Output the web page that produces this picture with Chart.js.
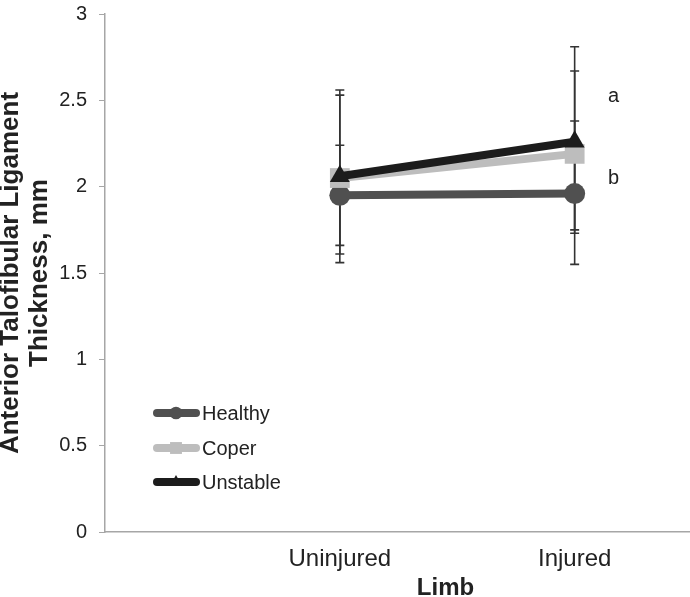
<!DOCTYPE html>
<html>
<head>
<meta charset="utf-8">
<script src="https://cdn.jsdelivr.net/npm/chart.js@4.4.1/dist/chart.umd.min.js"></script>
<style>
    html, body { margin: 0; padding: 0; background: #fff; overflow: hidden; }
    #wrap { width: 800px; height: 597px; }
</style>
</head>
<body>
<div id="wrap"><canvas id="chart"></canvas></div>
<script>
// values (mm)
const limbs = ['Uninjured', 'Injured'];
const groups = ['Healthy', 'Coper', 'Unstable'];

const healthy = [1.95, 1.96];
const coper = [2.05, 2.19];
const unstable = [2.06, 2.26];

// error bar ends
const healthyLow = [1.66, 1.55];
const healthyHigh = [2.24, 2.38];
const coperLow = [1.61, 1.73];
const coperHigh = [2.53, 2.67];
const unstableLow = [1.56, 1.75];
const unstableHigh = [2.56, 2.81];

const yTicks = [0, 0.5, 1, 1.5, 2, 2.5, 3];

// significance letters next to the injured limb
const sigLetters = ['a', 'b'];
const sigValues = [2.52, 2.05];

const FONT = "'Liberation Sans', Arial, Helvetica, sans-serif";
const TEXT = '#222222';
const AXIS = '#a6a6a6';

const styles = {
    Healthy: { color: '#505050', point: 'circle', radius: 10.5, order: 3 },
    Coper: { color: '#bdbdbd', point: 'rect', radius: 14, order: 2 },
    Unstable: { color: '#1c1c1c', point: 'triangle', radius: 11.5, order: 1 }
};

const series = [healthy, coper, unstable];
const lows = [healthyLow, coperLow, unstableLow];
const highs = [healthyHigh, coperHigh, unstableHigh];

function toPoints(values) {
    return values.map((v, i) => ({ x: i + 1, y: v }));
}

const datasets = groups.map((name, k) => ({
    label: name,
    data: toPoints(series[k]),
    borderColor: styles[name].color,
    backgroundColor: styles[name].color,
    borderWidth: 8,
    pointStyle: styles[name].point,
    pointRadius: styles[name].radius,
    pointHoverRadius: styles[name].radius,
    pointBorderWidth: 0,
    order: styles[name].order,
    tension: 0
}));

const errorBars = {
    id: 'errorBars',
    beforeDatasetsDraw(chart) {
        const { ctx, scales: { x, y } } = chart;
        ctx.save();
        ctx.strokeStyle = '#333333';
        ctx.lineWidth = 1.6;
        groups.forEach((name, k) => {
            limbs.forEach((_, i) => {
                const px = x.getPixelForValue(i + 1);
                const top = y.getPixelForValue(highs[k][i]);
                const bot = y.getPixelForValue(lows[k][i]);
                ctx.beginPath();
                ctx.moveTo(px, top);
                ctx.lineTo(px, bot);
                ctx.moveTo(px - 4.5, top);
                ctx.lineTo(px + 4.5, top);
                ctx.moveTo(px - 4.5, bot);
                ctx.lineTo(px + 4.5, bot);
                ctx.stroke();
            });
        });
        ctx.restore();
    }
};

function drawMarker(ctx, style, cx, cy, r) {
    ctx.beginPath();
    if (style === 'circle') {
        ctx.arc(cx, cy, r, 0, Math.PI * 2);
    } else if (style === 'rect') {
        const s = Math.SQRT1_2 * r;
        ctx.rect(cx - s, cy - s, 2 * s, 2 * s);
    } else {
        ctx.moveTo(cx, cy - r);
        ctx.lineTo(cx + r * 0.866, cy + r / 2);
        ctx.lineTo(cx - r * 0.866, cy + r / 2);
        ctx.closePath();
    }
    ctx.fill();
}

const sideLegend = {
    id: 'sideLegend',
    afterDraw(chart) {
        const { ctx, chartArea } = chart;
        const x0 = chartArea.left + 48;
        const rows = [chartArea.bottom - 119, chartArea.bottom - 84, chartArea.bottom - 50];
        ctx.save();
        groups.forEach((name, k) => {
            const st = styles[name];
            const yy = rows[k];
            ctx.strokeStyle = st.color;
            ctx.fillStyle = st.color;
            ctx.lineWidth = 8;
            ctx.lineCap = 'round';
            ctx.beginPath();
            ctx.moveTo(x0 + 4, yy);
            ctx.lineTo(x0 + 43, yy);
            ctx.stroke();
            drawMarker(ctx, st.point, x0 + 23, yy, st.radius * 0.6);
            ctx.fillStyle = TEXT;
            ctx.font = '20px ' + FONT;
            ctx.textBaseline = 'middle';
            ctx.fillText(name, x0 + 49, yy + 1);
        });
        // significance letters
        const { x, y } = chart.scales;
        ctx.font = '20px ' + FONT;
        ctx.textAlign = 'center';
        sigLetters.forEach((t, i) => {
            ctx.fillText(t, x.getPixelForValue(2) + 39, y.getPixelForValue(sigValues[i]));
        });
        ctx.restore();
    }
};

new Chart(document.getElementById('chart'), {
    type: 'line',
    data: { datasets },
    plugins: [errorBars, sideLegend],
    options: {
        responsive: true,
        maintainAspectRatio: false,
        animation: false,
        layout: { padding: 0 },
        plugins: {
            legend: { display: false },
            tooltip: { enabled: false }
        },
        scales: {
            x: {
                type: 'linear',
                min: 0,
                max: 2.9,
                afterFit(scale) {
                    scale.height = 65;
                    scale.paddingLeft = 0;
                    scale.paddingRight = 0;
                },
                grid: { display: false },
                border: { display: true, color: AXIS, width: 1.5 },
                ticks: {
                    stepSize: 1,
                    autoSkip: false,
                    maxRotation: 0,
                    padding: 5,
                    color: TEXT,
                    font: { family: FONT, size: 24 },
                    callback: v => (Number.isInteger(v) && v >= 1 && v <= limbs.length) ? limbs[v - 1] : ''
                },
                title: {
                    display: true,
                    text: 'Limb',
                    color: TEXT,
                    padding: { top: 0, bottom: -3 },
                    font: { family: FONT, size: 24, weight: 'bold', lineHeight: 1 }
                }
            },
            y: {
                min: yTicks[0],
                max: yTicks[yTicks.length - 1],
                afterFit(scale) {
                    scale.width = 105;
                    scale.paddingTop = 8;
                    scale.paddingBottom = 8;
                },
                grid: {
                    drawOnChartArea: false,
                    drawTicks: true,
                    tickLength: 6,
                    color: AXIS
                },
                border: { display: true, color: AXIS, width: 1.5 },
                ticks: {
                    stepSize: yTicks[1] - yTicks[0],
                    padding: 12,
                    color: TEXT,
                    font: { family: FONT, size: 20, lineHeight: 0.8 },
                    callback: v => String(v)
                },
                title: {
                    display: true,
                    text: ['Anterior Talofibular Ligament', 'Thickness, mm'],
                    color: TEXT,
                    padding: { top: -3, bottom: 0 },
                    font: { family: FONT, size: 26, weight: 'bold', lineHeight: 1.1 }
                }
            }
        }
    }
});
</script>
</body>
</html>
